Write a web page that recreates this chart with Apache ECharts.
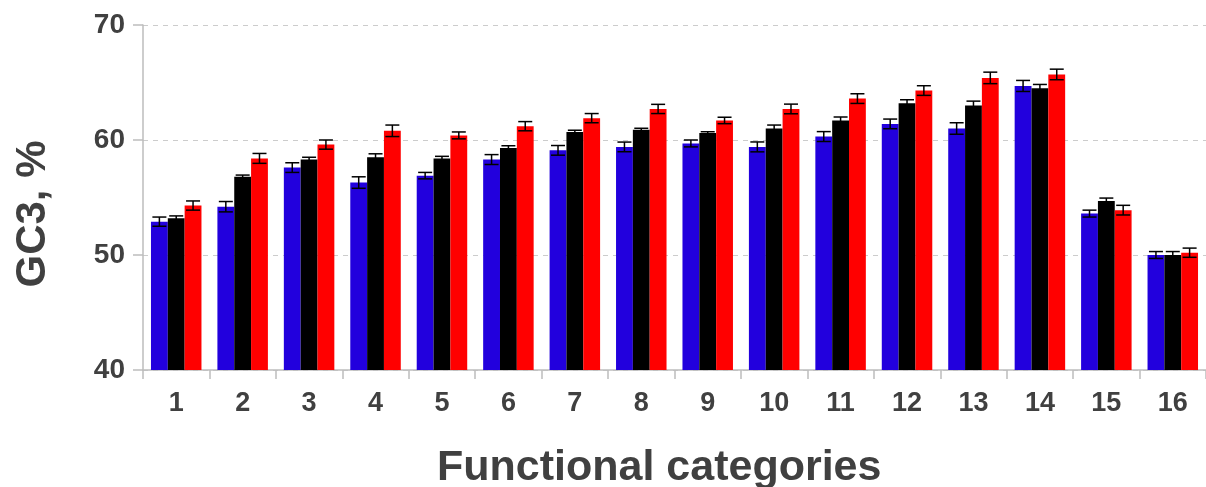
<!DOCTYPE html>
<html>
<head>
<meta charset="utf-8">
<script src="https://cdn.jsdelivr.net/npm/echarts@6/dist/echarts.min.js"></script>
<style>html,body{margin:0;padding:0;background:#fff}#c{width:1206px;height:487px}</style>
</head>
<body>
<div id="c"></div>
<script>
const categories = ['1','2','3','4','5','6','7','8','9','10','11','12','13','14','15','16'];
const blueVals  = [52.9, 54.2, 57.6, 56.3, 56.9, 58.3, 59.1, 59.4, 59.7, 59.4, 60.3, 61.4, 61.0, 64.7, 53.6, 50.0];
const blackVals = [53.2, 56.8, 58.3, 58.5, 58.4, 59.3, 60.7, 60.9, 60.6, 61.0, 61.7, 63.2, 63.0, 64.5, 54.7, 50.0];
const redVals   = [54.3, 58.4, 59.6, 60.8, 60.4, 61.2, 61.9, 62.7, 61.7, 62.7, 63.6, 64.3, 65.4, 65.7, 53.9, 50.2];
const blueErr   = [0.4, 0.45, 0.42, 0.5, 0.28, 0.43, 0.42, 0.42, 0.3, 0.43, 0.43, 0.42, 0.5, 0.48, 0.3, 0.3];
const blackErr  = [0.2, 0.15, 0.2, 0.3, 0.18, 0.2, 0.15, 0.12, 0.12, 0.3, 0.3, 0.3, 0.38, 0.33, 0.25, 0.3];
const redErr    = [0.4, 0.43, 0.4, 0.5, 0.3, 0.4, 0.4, 0.4, 0.28, 0.42, 0.42, 0.42, 0.5, 0.46, 0.42, 0.4];
const yTicks = [40, 50, 60, 70];

const FONT = "'Liberation Sans', Arial, sans-serif";
const TXT = '#404040';
const GAP = 0.24;

function errSeries(vals, errs, slot) {
  return {
    type: 'custom',
    z: 10,
    silent: true,
    data: vals.map((v, i) => [i, v, errs[i]]),
    encode: { x: 0, y: 1 },
    renderItem: function (params, api) {
      const i = api.value(0), v = api.value(1), e = api.value(2);
      const band = api.size([1, 0])[0];
      const barW = band * (1 - GAP) / 3;
      const cx = api.coord([i, v])[0] + (slot - 1) * barW;
      const yT = api.coord([i, v + e])[1];
      const yB = api.coord([i, v - e])[1];
      const hw = 7;
      const st = { stroke: '#000', lineWidth: 1.5 };
      return {
        type: 'group',
        children: [
          { type: 'line', shape: { x1: cx, y1: yT, x2: cx, y2: yB }, style: st },
          { type: 'line', shape: { x1: cx - hw, y1: yT, x2: cx + hw, y2: yT }, style: st },
          { type: 'line', shape: { x1: cx - hw, y1: yB, x2: cx + hw, y2: yB }, style: st }
        ]
      };
    }
  };
}

const chart = echarts.init(document.getElementById('c'));
chart.setOption({
  animation: false,
  backgroundColor: '#fff',
  title: {
    text: 'Functional categories',
    left: 432, top: 442,
    textStyle: { fontFamily: FONT, fontWeight: 'bold', fontSize: 43, color: TXT }
  },
  graphic: [{
    type: 'text',
    x: 12, y: 214,
    rotation: Math.PI / 2,
    style: {
      text: 'GC3, %',
      fontFamily: FONT, fontWeight: 'bold', fontSize: 42, fill: TXT,
      align: 'center', verticalAlign: 'top'
    }
  }],
  grid: { left: 143, top: 25, width: 1072, bottom: 117, containLabel: false },
  xAxis: {
    type: 'category',
    data: categories,
    axisLine: { show: true, lineStyle: { color: '#bdbdbd', width: 1.5 } },
    axisTick: { show: true, length: 9, lineStyle: { color: '#bdbdbd', width: 1.5 } },
    axisLabel: { margin: 20, fontFamily: FONT, fontWeight: 'bold', fontSize: 27, color: TXT },
    splitLine: { show: false }
  },
  yAxis: {
    type: 'value',
    min: yTicks[0], max: yTicks[yTicks.length - 1], interval: 10,
    axisLine: { show: true, lineStyle: { color: '#bdbdbd', width: 1.5 } },
    axisTick: { show: true, length: 10, lineStyle: { color: '#bdbdbd', width: 1.5 } },
    axisLabel: { margin: 18, fontFamily: FONT, fontWeight: 'bold', fontSize: 28, color: TXT },
    splitLine: { show: true, lineStyle: { color: '#cccccc', type: [5, 5], width: 1 } }
  },
  series: [
    { type: 'bar', data: blueVals, itemStyle: { color: '#2200dd' }, barGap: '0%', barCategoryGap: (GAP * 100) + '%' },
    { type: 'bar', data: blackVals, itemStyle: { color: '#000000' }, barGap: '0%', barCategoryGap: (GAP * 100) + '%' },
    { type: 'bar', data: redVals, itemStyle: { color: '#ff0000' }, barGap: '0%', barCategoryGap: (GAP * 100) + '%' },
    errSeries(blueVals, blueErr, 0),
    errSeries(blackVals, blackErr, 1),
    errSeries(redVals, redErr, 2)
  ]
});
</script>
</body>
</html>
